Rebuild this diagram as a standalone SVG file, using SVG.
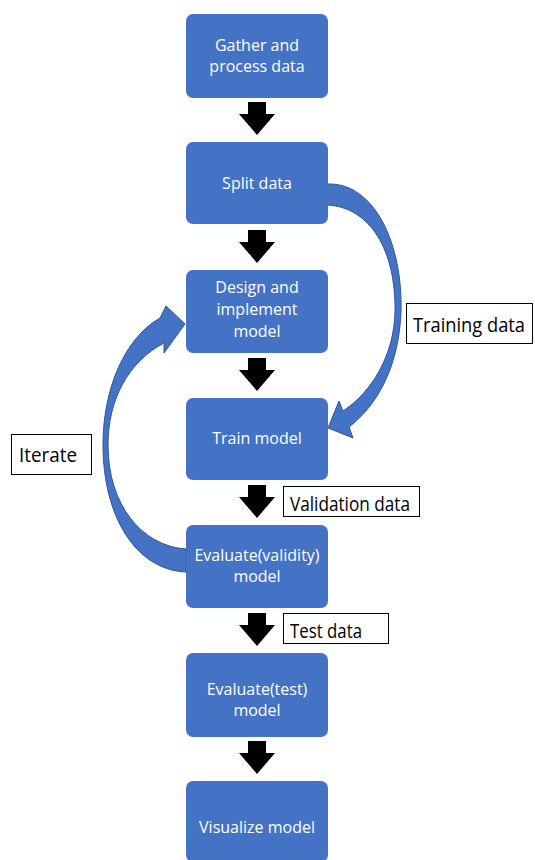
<svg xmlns="http://www.w3.org/2000/svg" width="535" height="860" viewBox="0 0 535 860">
<style>
.box{fill:#4472C4;}
.nt{fill:#ffffff;font-family:"Open Sans","Noto Sans",sans-serif;font-size:16px;text-anchor:middle;}
.lb{fill:#ffffff;stroke:#000000;stroke-width:1;}
.lt{fill:#000000;font-family:"Open Sans","Noto Sans",sans-serif;font-size:20px;}
.ba{fill:#000000;}
.ca{fill:#4472C4;stroke:#2F5597;stroke-width:1;}
</style>
<defs>
<path id="darrow" d="M-9,0 H9 V12 H18 L0,33 L-18,12 H-9 Z"/>
</defs>
<rect width="535" height="860" fill="#ffffff"/>
<g id="connectors">
<use href="#darrow" class="ba" x="257" y="102"/>
<use href="#darrow" class="ba" x="257" y="230"/>
<use href="#darrow" class="ba" x="257" y="358"/>
<use href="#darrow" class="ba" x="257" y="485"/>
<use href="#darrow" class="ba" x="257" y="613"/>
<use href="#darrow" class="ba" x="257" y="741"/>
<path id="training-arrow" class="ca" d="M327,184 C375,182 403,245 401,312 C399,365 378,405 349,427 L353,438 L328,428 L339,401 L343,411 C372,392 394,355 395,312 C396,250 370,207 327,205 Z"/>
<path id="iterate-arrow" class="ca" d="M186,572 C135,570 103,515 103,445 C103,388 125,338 160,318 L166,306 L185,324 L164,353 L164,343 C128,362 108,400 108,445 C108,505 142,546 186,549 Z"/>
</g>
<g id="n1"><rect class="box" x="186" y="14" width="142" height="84" rx="7"/><text class="nt" x="257" y="51">Gather and</text><text class="nt" x="257" y="72">process data</text></g>
<g id="n2"><rect class="box" x="186" y="142" width="142" height="82" rx="7"/><text class="nt" x="257" y="189">Split data</text></g>
<g id="n3"><rect class="box" x="186" y="270" width="142" height="83" rx="7"/><text class="nt" x="257" y="293">Design and</text><text class="nt" x="257" y="315">implement</text><text class="nt" x="257" y="337">model</text></g>
<g id="n4"><rect class="box" x="186" y="398" width="142" height="82" rx="7"/><text class="nt" x="257" y="444">Train model</text></g>
<g id="n5"><rect class="box" x="186" y="525" width="142" height="83" rx="7"/><text class="nt" x="257" y="561">Evaluate(validity)</text><text class="nt" x="257" y="582">model</text></g>
<g id="n6"><rect class="box" x="186" y="653" width="142" height="84" rx="7"/><text class="nt" x="257" y="695">Evaluate(test)</text><text class="nt" x="257" y="716">model</text></g>
<g id="n7"><rect class="box" x="186" y="781" width="142" height="81" rx="7"/><text class="nt" x="257" y="833">Visualize model</text></g>
<g id="label-training"><rect class="lb" x="406.5" y="303.5" width="126" height="40"/><text class="lt" x="413" y="332" textLength="112" lengthAdjust="spacingAndGlyphs">Training data</text></g>
<g id="label-iterate"><rect class="lb" x="11.5" y="434.5" width="80" height="40"/><text class="lt" x="19" y="462" textLength="58" lengthAdjust="spacingAndGlyphs">Iterate</text></g>
<g id="label-validation"><rect class="lb" x="283.5" y="486.5" width="136" height="30"/><text class="lt" x="290" y="511" textLength="120" lengthAdjust="spacingAndGlyphs">Validation data</text></g>
<g id="label-test"><rect class="lb" x="283.5" y="613.5" width="105" height="30"/><text class="lt" x="290" y="638" textLength="72" lengthAdjust="spacingAndGlyphs">Test data</text></g>
</svg>
